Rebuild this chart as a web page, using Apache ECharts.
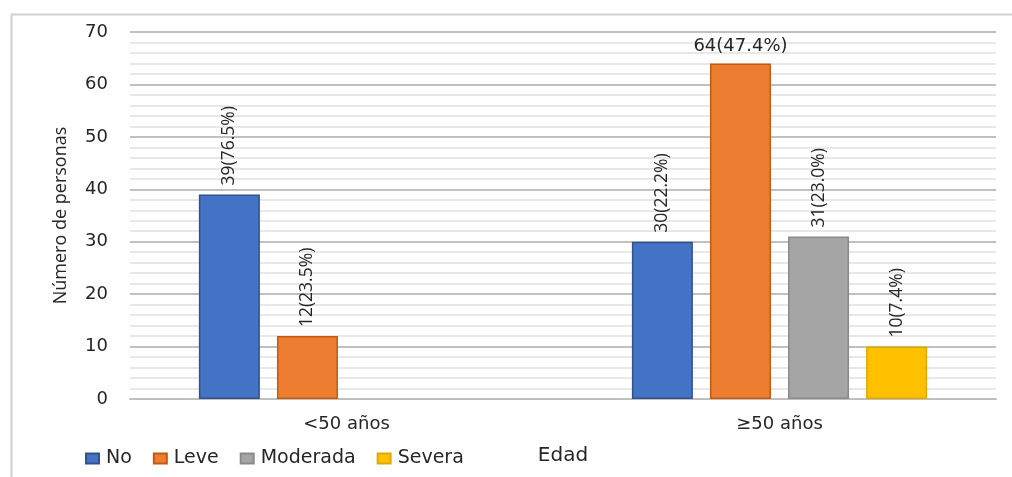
<!DOCTYPE html>
<html>
<head>
<meta charset="utf-8">
<script src="https://cdn.jsdelivr.net/npm/echarts@6/dist/echarts.min.js"></script>
<style>
  html, body { margin: 0; padding: 0; background: #fff; }
  #chart { width: 1012px; height: 477px; }
</style>
</head>
<body>
<div id="chart"></div>
<script>
// Age groups and severity counts, with percentage within each age group
const categories = ['<50 años', '≥50 años'];
const seriesNames = ['No', 'Leve', 'Moderada', 'Severa'];
const noValues = [39, 30];
const leveValues = [12, 64];
const moderadaValues = [null, 31];
const severaValues = [null, 10];
const noPct = [76.5, 22.2];
const levePct = [23.5, 47.4];
const moderadaPct = [null, 23.0];
const severaPct = [null, 7.4];
const yTicks = [0, 10, 20, 30, 40, 50, 60, 70];

const fills = ['#4472c4', '#ed7d31', '#a5a5a5', '#ffc000'];
const edges = ['#2f528f', '#c55a11', '#8a8a8a', '#e0a800'];

const horizFont = 'DejaVu Sans';
const vertFont = 'Open Sans';

function makeSeries(idx, values, pcts) {
  return {
    name: seriesNames[idx],
    type: 'bar',
    barWidth: 61,
    barGap: '28%',
    itemStyle: { color: fills[idx], borderColor: edges[idx], borderWidth: 1.5 },
    data: values.map((v, i) => {
      if (v === null) return null;
      const item = { value: v };
      // the tallest bar carries its label horizontally above it
      if (v > 60) {
        item.label = {
          rotate: 0, align: 'center', verticalAlign: 'bottom',
          distance: 8, fontFamily: horizFont, fontSize: 18
        };
      }
      return item;
    }),
    label: {
      show: true,
      position: 'top',
      rotate: 90,
      align: 'left',
      verticalAlign: 'middle',
      distance: 9,
      color: '#262626',
      fontFamily: vertFont,
      fontSize: 17.5,
      formatter: p => p.value + '(' + pcts[p.dataIndex].toFixed(1) + '%)'
    }
  };
}

const chart = echarts.init(document.getElementById('chart'), null, { renderer: 'canvas' });
chart.setOption({
  animation: false,
  backgroundColor: '#ffffff',
  graphic: [{
    type: 'rect',
    left: 9, top: 12,
    shape: { width: 1010, height: 470 },
    style: { fill: 'none', stroke: '#d0d0d0', lineWidth: 2 },
    silent: true
  }],
  grid: { left: 130, right: 16, top: 32, bottom: 78 },
  legend: {
    data: seriesNames,
    left: 80, top: 444,
    itemWidth: 13, itemHeight: 10, itemGap: 21,
    icon: 'rect',
    textStyle: { fontFamily: horizFont, fontSize: 19, color: '#262626', padding: [0, 0, 0, 2] }
  },
  xAxis: {
    type: 'category',
    data: categories,
    name: 'Edad',
    nameLocation: 'middle',
    nameGap: 47,
    nameTextStyle: { fontFamily: horizFont, fontSize: 20, color: '#262626' },
    axisLine: { lineStyle: { color: '#bfbfbf', width: 2 } },
    axisTick: { show: false },
    axisLabel: { margin: 16, fontFamily: horizFont, fontSize: 18, color: '#262626' }
  },
  yAxis: {
    type: 'value',
    min: yTicks[0],
    max: yTicks[yTicks.length - 1],
    interval: 10,
    name: 'Número de personas',
    nameLocation: 'middle',
    nameGap: 60,
    nameTextStyle: { fontFamily: vertFont, fontSize: 18, color: '#262626' },
    axisLine: { show: false },
    axisTick: { show: false },
    axisLabel: { margin: 22, fontFamily: horizFont, fontSize: 18, color: '#262626' },
    splitLine: { lineStyle: { color: '#c0c0c0', width: 2 } },
    minorTick: { show: false, splitNumber: 5 },
    minorSplitLine: { show: true, lineStyle: { color: '#e8e8e8', width: 2 } }
  },
  series: [
    makeSeries(0, noValues, noPct),
    makeSeries(1, leveValues, levePct),
    makeSeries(2, moderadaValues, moderadaPct),
    makeSeries(3, severaValues, severaPct)
  ]
});
</script>
</body>
</html>
